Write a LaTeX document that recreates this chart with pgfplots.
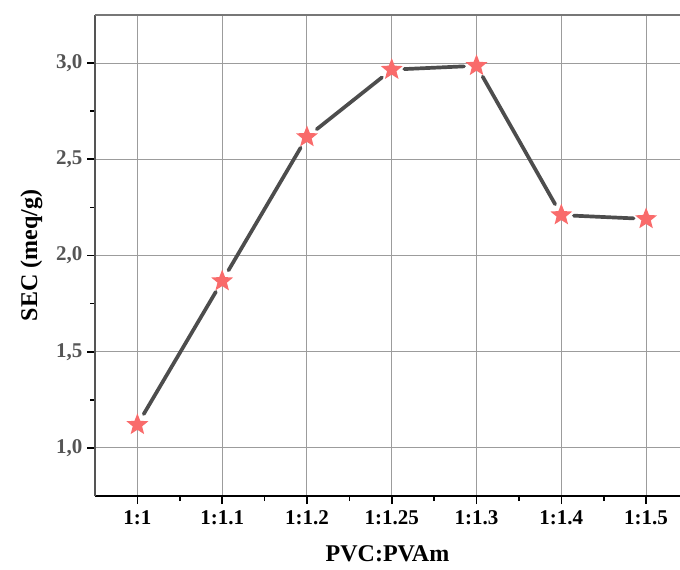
\documentclass[border=0pt]{standalone}
\usepackage{fontspec}
\setmainfont{Liberation Serif}
\usepackage{pgfplots}
\pgfplotsset{compat=1.18}

\definecolor{linegray}{HTML}{4D4D4D}
\definecolor{starred}{HTML}{F96B6B}
\definecolor{gridgray}{HTML}{9C9C9C}
\definecolor{axisgray}{HTML}{555555}

% filled five-pointed star
\pgfdeclareplotmark{fstar}{%
  \pgfpathmoveto{\pgfpointpolar{90}{\pgfplotmarksize}}%
  \pgfpathlineto{\pgfpointpolar{126}{0.43\pgfplotmarksize}}%
  \pgfpathlineto{\pgfpointpolar{162}{\pgfplotmarksize}}%
  \pgfpathlineto{\pgfpointpolar{198}{0.43\pgfplotmarksize}}%
  \pgfpathlineto{\pgfpointpolar{234}{\pgfplotmarksize}}%
  \pgfpathlineto{\pgfpointpolar{270}{0.43\pgfplotmarksize}}%
  \pgfpathlineto{\pgfpointpolar{306}{\pgfplotmarksize}}%
  \pgfpathlineto{\pgfpointpolar{342}{0.43\pgfplotmarksize}}%
  \pgfpathlineto{\pgfpointpolar{18}{\pgfplotmarksize}}%
  \pgfpathlineto{\pgfpointpolar{54}{0.43\pgfplotmarksize}}%
  \pgfpathclose
  \pgfusepathqfill
}

\tikzset{seg/.style={linegray, line width=3.7bp, line cap=round,
  shorten <=12.5bp, shorten >=12.5bp, mark=none}}

\begin{document}
\begin{tikzpicture}
\begin{axis}[name=ax,
    scale only axis,
    width=585bp, height=481bp,
    xmin=-0.5, xmax=6.4,
    ymin=0.75, ymax=3.25,
    axis lines*=left,
    x axis line style={black, line width=1.6bp},
    y axis line style={axisgray, line width=1.6bp},
    xtick={0,...,6},
    xticklabels={1:1,1:1.1,1:1.2,1:1.25,1:1.3,1:1.4,1:1.5},
    ytick={1,1.5,2,2.5,3},
    minor x tick num=1,
    minor y tick num=1,
    tick align=outside,
    major tick length=8bp,
    minor tick length=5bp,
    every tick/.style={black, line width=1.6bp},
    grid=major,
    major grid style={gridgray, line width=1bp},
    /pgf/number format/assume math mode=true,
    /pgf/number format/use comma,
    /pgf/number format/fixed,
    /pgf/number format/fixed zerofill,
    /pgf/number format/precision=1,
    ticklabel style={font=\fontsize{21bp}{24bp}\selectfont\bfseries},
    yticklabel style={axisgray, xshift=-1bp},
    xticklabel style={black, yshift=-3bp},
    xlabel={PVC:PVAm},
    ylabel={SEC (meq/g)},
    label style={font=\fontsize{24bp}{28bp}\selectfont\bfseries},
    xlabel style={yshift=-14bp},
    ylabel style={yshift=7bp},
    clip=false,
]
\draw[axisgray!80, line width=1.6bp] (rel axis cs:0,1) -- (rel axis cs:1,1);

\addplot[seg] coordinates {(0,1.12) (1,1.867)};
\addplot[seg] coordinates {(1,1.867) (2,2.616)};
\addplot[seg] coordinates {(2,2.616) (3,2.966)};
\addplot[seg] coordinates {(3,2.966) (4,2.986)};
\addplot[seg] coordinates {(4,2.986) (5,2.21)};
\addplot[seg] coordinates {(5,2.21) (6,2.19)};

\addplot[only marks, mark=fstar, mark size=11.5bp, mark options={fill=starred, draw=none}]
  coordinates {(0,1.12) (1,1.867) (2,2.616) (3,2.966) (4,2.986) (5,2.21) (6,2.19)};
\end{axis}
\path (ax.south west) ++(-95bp,-73bp) coordinate (bbA);
\path (ax.north east) ++(0bp,15bp) coordinate (bbB);
\pgfresetboundingbox
\path[use as bounding box] (bbA) rectangle (bbB);
\end{tikzpicture}
\end{document}
